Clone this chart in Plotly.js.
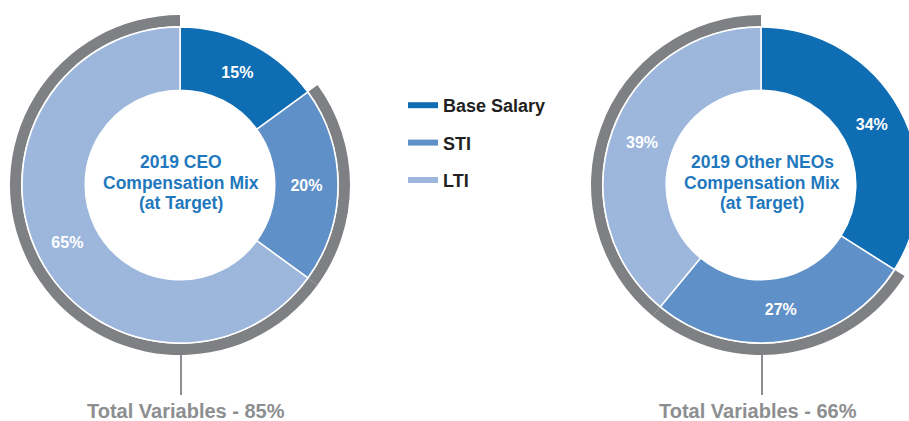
<!DOCTYPE html>
<html>
<head>
<meta charset="utf-8">
<script src="https://cdn.plot.ly/plotly-3.0.1.min.js"></script>
<style>
  html, body { margin: 0; padding: 0; background: #fff; overflow: hidden; width: 909px; height: 421px; }
  #chart { width: 940px; height: 421px; }
</style>
</head>
<body>
<div id="chart"></div>
<script>
// ---- data ----
const categories = ['Base Salary', 'STI', 'LTI'];
const ceoValues = [15, 20, 65];
const neoValues = [34, 27, 39];
const ceoTitleLines = ['2019 CEO', 'Compensation Mix', '(at Target)'];
const neoTitleLines = ['2019 Other NEOs', 'Compensation Mix', '(at Target)'];
const variableLabel = 'Total Variables - ';

// ---- styles ----
const colors = ['#0f6db3', '#5f90c8', '#9cb6dc'];
const ringGray = '#7f8083';
const noteGray = '#8d8e90';
const titleBlue = '#1f78bd';
const FONT = 'Liberation Sans, Arial, Helvetica, sans-serif';

const W = 940, H = 421;
function dom(cx, cy, r) {
  return { x: [(cx - r) / W, (cx + r) / W], y: [(H - cy - r) / H, (H - cy + r) / H] };
}

const charts = [
  { values: ceoValues, lines: ceoTitleLines, cx: 180, cy: 185, noteX: 186 },
  { values: neoValues, lines: neoTitleLines, cx: 761, cy: 185, noteX: 758 }
];

const traces = [];
const shapes = [];
const annotations = [];
const lineOffsets = [-23, -2, 18];

charts.forEach(c => {
  // gray outer ring over the variable components
  traces.push({
    type: 'pie',
    labels: categories,
    values: c.values,
    sort: false,
    direction: 'clockwise',
    rotation: 0,
    hole: 0.935,
    domain: dom(c.cx, c.cy, 170),
    marker: { colors: ['rgba(0,0,0,0)', ringGray, ringGray], line: { width: 0 } },
    textinfo: 'none',
    hoverinfo: 'skip',
    showlegend: false
  });
  // main donut
  traces.push({
    type: 'pie',
    labels: categories,
    values: c.values,
    sort: false,
    direction: 'clockwise',
    rotation: 0,
    hole: 0.6,
    domain: dom(c.cx, c.cy, 158),
    marker: { colors: colors, line: { color: '#ffffff', width: 1.5 } },
    texttemplate: '%{value}%',
    textposition: 'inside',
    insidetextorientation: 'horizontal',
    textfont: { family: FONT, size: 16, color: '#ffffff', weight: 700 },
    showlegend: false
  });
  // center title lines
  c.lines.forEach((t, k) => {
    annotations.push({
      xref: 'paper', yref: 'paper',
      x: (c.cx + 1) / W, y: (H - c.cy - lineOffsets[k]) / H,
      xanchor: 'center', yanchor: 'middle',
      text: t, showarrow: false,
      font: { family: FONT, size: 17.5, color: titleBlue, weight: 700 }
    });
  });
  // leader line
  shapes.push({
    type: 'line', xref: 'paper', yref: 'paper',
    x0: (c.cx + 1) / W, x1: (c.cx + 1) / W,
    y0: (H - 355) / H, y1: (H - 395) / H,
    line: { color: noteGray, width: 2 }
  });
  const variableTotal = c.values.slice(1).reduce((a, b) => a + b, 0);
  annotations.push({
    xref: 'paper', yref: 'paper',
    x: c.noteX / W, y: (H - 411) / H,
    xanchor: 'center', yanchor: 'middle',
    text: variableLabel + variableTotal + '%',
    showarrow: false,
    font: { family: FONT, size: 20, color: noteGray, weight: 700 }
  });
});

// legend entries (line samples)
categories.forEach((cat, i) => {
  traces.push({
    type: 'scatter', mode: 'lines',
    x: [null], y: [null],
    name: cat,
    legendgroup: 'g' + i,
    line: { color: colors[i], width: 6 },
    showlegend: true,
    hoverinfo: 'skip'
  });
});

const layout = {
  width: W, height: H,
  margin: { l: 0, r: 0, t: 0, b: 0 },
  paper_bgcolor: '#ffffff',
  plot_bgcolor: 'rgba(0,0,0,0)',
  xaxis: { visible: false, domain: [0.47, 0.5] },
  yaxis: { visible: false },
  showlegend: true,
  legend: {
    x: 403 / W, xanchor: 'left',
    y: (H - 87) / H, yanchor: 'top',
    bgcolor: 'rgba(0,0,0,0)',
    font: { family: FONT, size: 18, color: '#231f20', weight: 700 },
    tracegroupgap: 11,
    itemwidth: 30
  },
  shapes: shapes,
  annotations: annotations
};

Plotly.newPlot('chart', traces, layout, { displayModeBar: false, staticPlot: true });
</script>
</body>
</html>
